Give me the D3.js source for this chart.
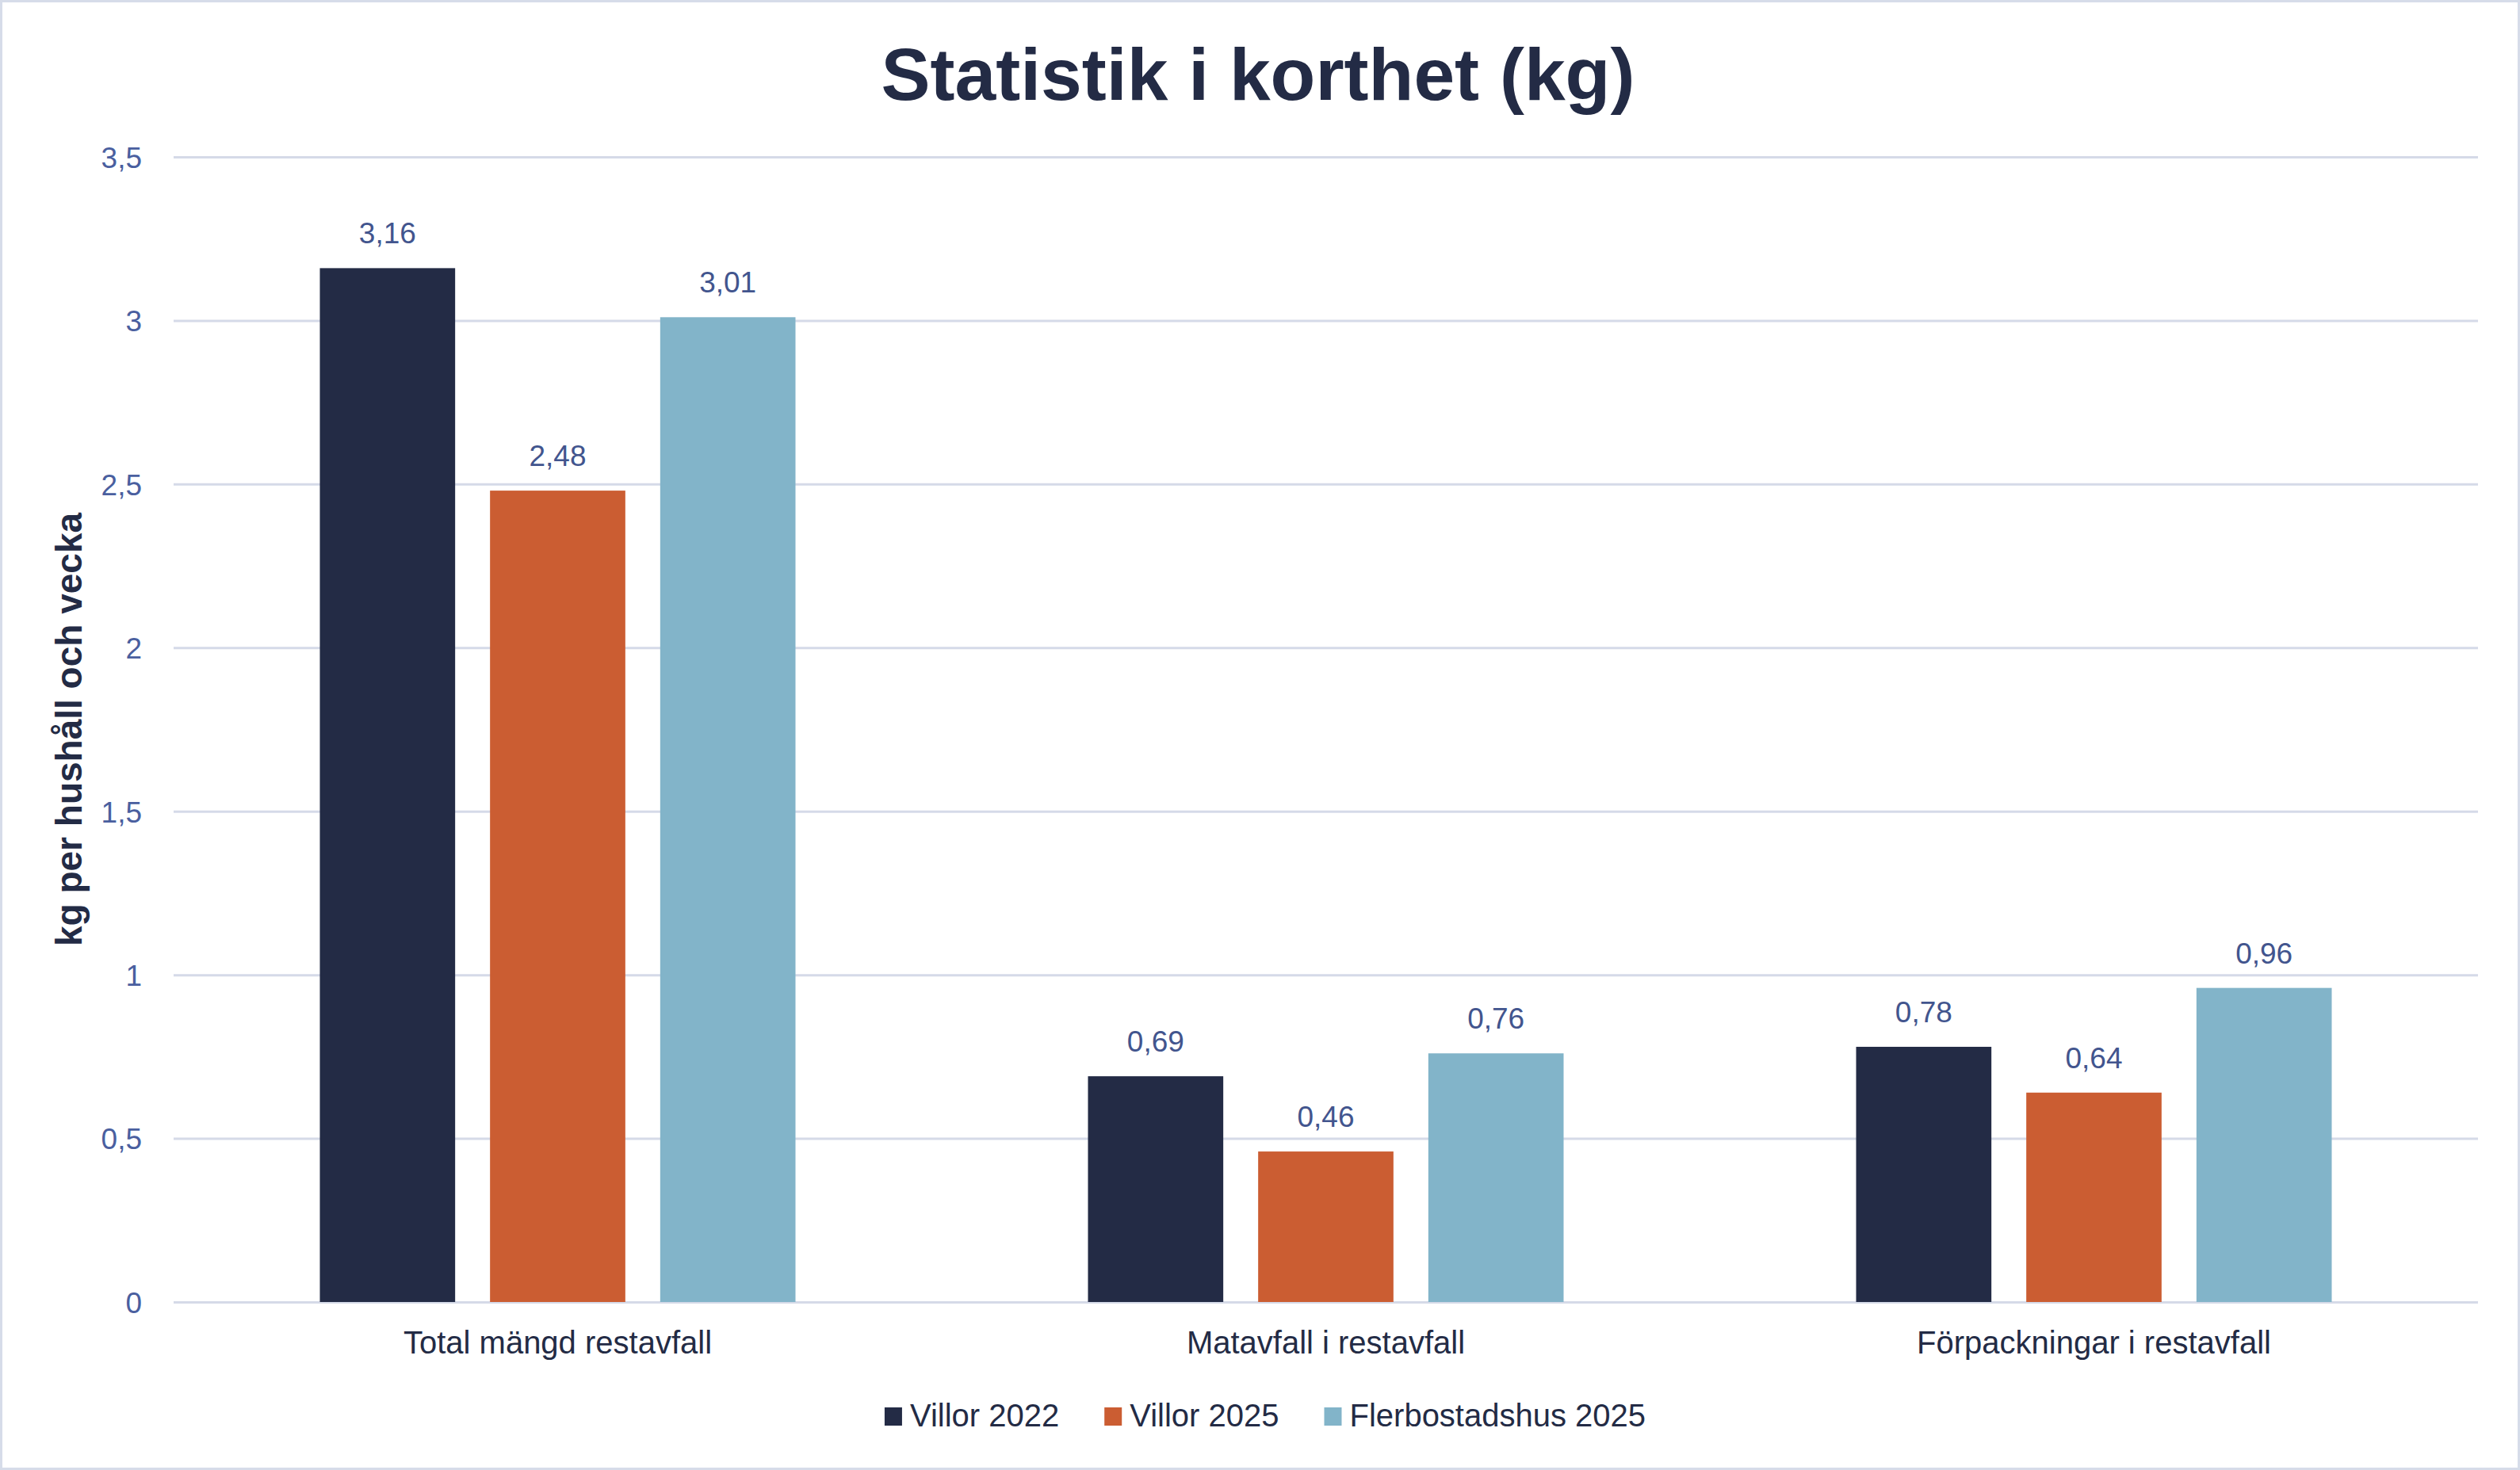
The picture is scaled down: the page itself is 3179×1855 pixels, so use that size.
<!DOCTYPE html>
<html lang="sv">
<head>
    <meta charset="UTF-8">
    <title>Statistik i korthet (kg)</title>
    <script src="https://cdnjs.cloudflare.com/ajax/libs/d3/7.8.5/d3.min.js"></script>
    <style>
        html, body { margin: 0; padding: 0; background: #fff; }
        svg { display: block; }
    </style>
</head>
<body>
    <div id="wrapper"></div>
    <script>
        // data
        const categories = ['Total mängd restavfall', 'Matavfall i restavfall', 'Förpackningar i restavfall']
        const seriesNames = ['Villor 2022', 'Villor 2025', 'Flerbostadshus 2025']
        const villor2022 = [3.16, 0.69, 0.78]
        const villor2025 = [2.48, 0.46, 0.64]
        const flerbostadshus2025 = [3.01, 0.76, 0.96]
        const yTicks = [0, 0.5, 1, 1.5, 2, 2.5, 3, 3.5]

        const seriesValues = [villor2022, villor2025, flerbostadshus2025]
        const colors = ['#232B45', '#CB5D32', '#82B4C9']

        const sv = d3.formatLocale({ decimal: ',', thousands: ' ', grouping: [3], currency: ['', ' kr'] })
        const tickFormat = sv.format('~g')
        const valueFormat = sv.format('.2f')

        // 1. dimensions
        const dimensions = {
            width: 3179,
            height: 1855,
            margin: { top: 198, right: 53, bottom: 212, left: 219 }
        }
        dimensions.boundedWidth = dimensions.width - dimensions.margin.left - dimensions.margin.right
        dimensions.boundedHeight = dimensions.height - dimensions.margin.top - dimensions.margin.bottom

        // 2. canvas
        const svg = d3.select('#wrapper')
            .append('svg')
                .attr('width', dimensions.width)
                .attr('height', dimensions.height)
                .style('font-family', '"Liberation Sans", Arial, sans-serif')

        svg.append('rect')
            .attr('x', 1.5)
            .attr('y', 1.5)
            .attr('width', dimensions.width - 3)
            .attr('height', dimensions.height - 3)
            .attr('fill', '#fff')
            .attr('stroke', '#D6DCE9')
            .attr('stroke-width', 3)

        const bounds = svg.append('g')
            .attr('transform', `translate(${dimensions.margin.left},${dimensions.margin.top})`)

        // 3. scales
        const yScale = d3.scaleLinear()
            .domain([0, 3.5])
            .range([dimensions.boundedHeight, 0])

        const x0 = d3.scaleBand()
            .domain(categories)
            .range([0, dimensions.boundedWidth])
            .padding(0)

        const groupWidth = 600
        const x1 = d3.scaleBand()
            .domain(seriesNames)
            .range([(x0.bandwidth() - groupWidth) / 2, (x0.bandwidth() + groupWidth) / 2])
            .paddingInner(0.205)
            .paddingOuter(0)

        // 4. gridlines
        const yAxis = bounds.append('g')
            .call(d3.axisLeft(yScale)
                .tickValues(yTicks)
                .tickFormat(tickFormat)
                .tickSize(-dimensions.boundedWidth)
                .tickPadding(40))
        yAxis.select('.domain').remove()
        yAxis.selectAll('.tick line')
            .attr('stroke', '#D5DAE8')
            .attr('stroke-width', 3)
        yAxis.selectAll('.tick text')
            .attr('fill', '#4A5F9F')
            .style('font-size', '37px')
            .attr('dy', '0.36em')

        // 5. bars
        const rows = categories.map((c, i) => ({
            category: c,
            values: seriesNames.map((s, j) => ({ series: s, value: seriesValues[j][i], color: colors[j] }))
        }))

        const groups = bounds.selectAll('.group')
            .data(rows)
            .enter().append('g')
                .attr('class', 'group')
                .attr('transform', d => `translate(${x0(d.category)},0)`)

        groups.selectAll('rect')
            .data(d => d.values)
            .enter().append('rect')
                .attr('x', d => x1(d.series))
                .attr('y', d => yScale(d.value))
                .attr('width', x1.bandwidth())
                .attr('height', d => yScale(0) - yScale(d.value))
                .attr('fill', d => d.color)

        groups.selectAll('.value')
            .data(d => d.values)
            .enter().append('text')
                .attr('class', 'value')
                .attr('x', d => x1(d.series) + x1.bandwidth() / 2)
                .attr('y', d => yScale(d.value) - 31)
                .attr('text-anchor', 'middle')
                .attr('fill', '#42558E')
                .style('font-size', '37px')
                .text(d => valueFormat(d.value))

        // 6. category axis labels
        bounds.selectAll('.cat')
            .data(categories)
            .enter().append('text')
                .attr('class', 'cat')
                .attr('x', d => x0(d) + x0.bandwidth() / 2)
                .attr('y', dimensions.boundedHeight + 65)
                .attr('text-anchor', 'middle')
                .attr('fill', '#232B45')
                .style('font-size', '40px')
                .text(d => d)

        // y axis title
        svg.append('text')
            .attr('transform', `translate(103,${dimensions.margin.top + dimensions.boundedHeight / 2}) rotate(-90)`)
            .attr('text-anchor', 'middle')
            .attr('fill', '#232B45')
            .style('font-size', '46px')
            .style('font-weight', 'bold')
            .text('kg per hushåll och vecka')

        // title
        svg.append('text')
            .attr('x', 1587)
            .attr('y', 126)
            .attr('text-anchor', 'middle')
            .attr('fill', '#232B45')
            .style('font-size', '93px')
            .style('font-weight', 'bold')
            .text('Statistik i korthet (kg)')

        // 7. legend
        const legend = svg.append('g')
        const items = legend.selectAll('g')
            .data(seriesNames)
            .enter().append('g')
        items.append('rect')
            .attr('y', 1776)
            .attr('width', 22)
            .attr('height', 23)
            .attr('fill', (d, i) => colors[i])
        items.append('text')
            .attr('x', 32)
            .attr('y', 1800)
            .attr('fill', '#232B45')
            .style('font-size', '40px')
            .text(d => d)

        let cursor = 0
        items.each(function () {
            const w = d3.select(this).select('text').node().getComputedTextLength()
            d3.select(this).attr('transform', `translate(${cursor},0)`)
            cursor += 32 + w + 57
        })
        const legendWidth = cursor - 57
        legend.attr('transform', `translate(${1596 - legendWidth / 2},0)`)
    </script>
</body>
</html>
